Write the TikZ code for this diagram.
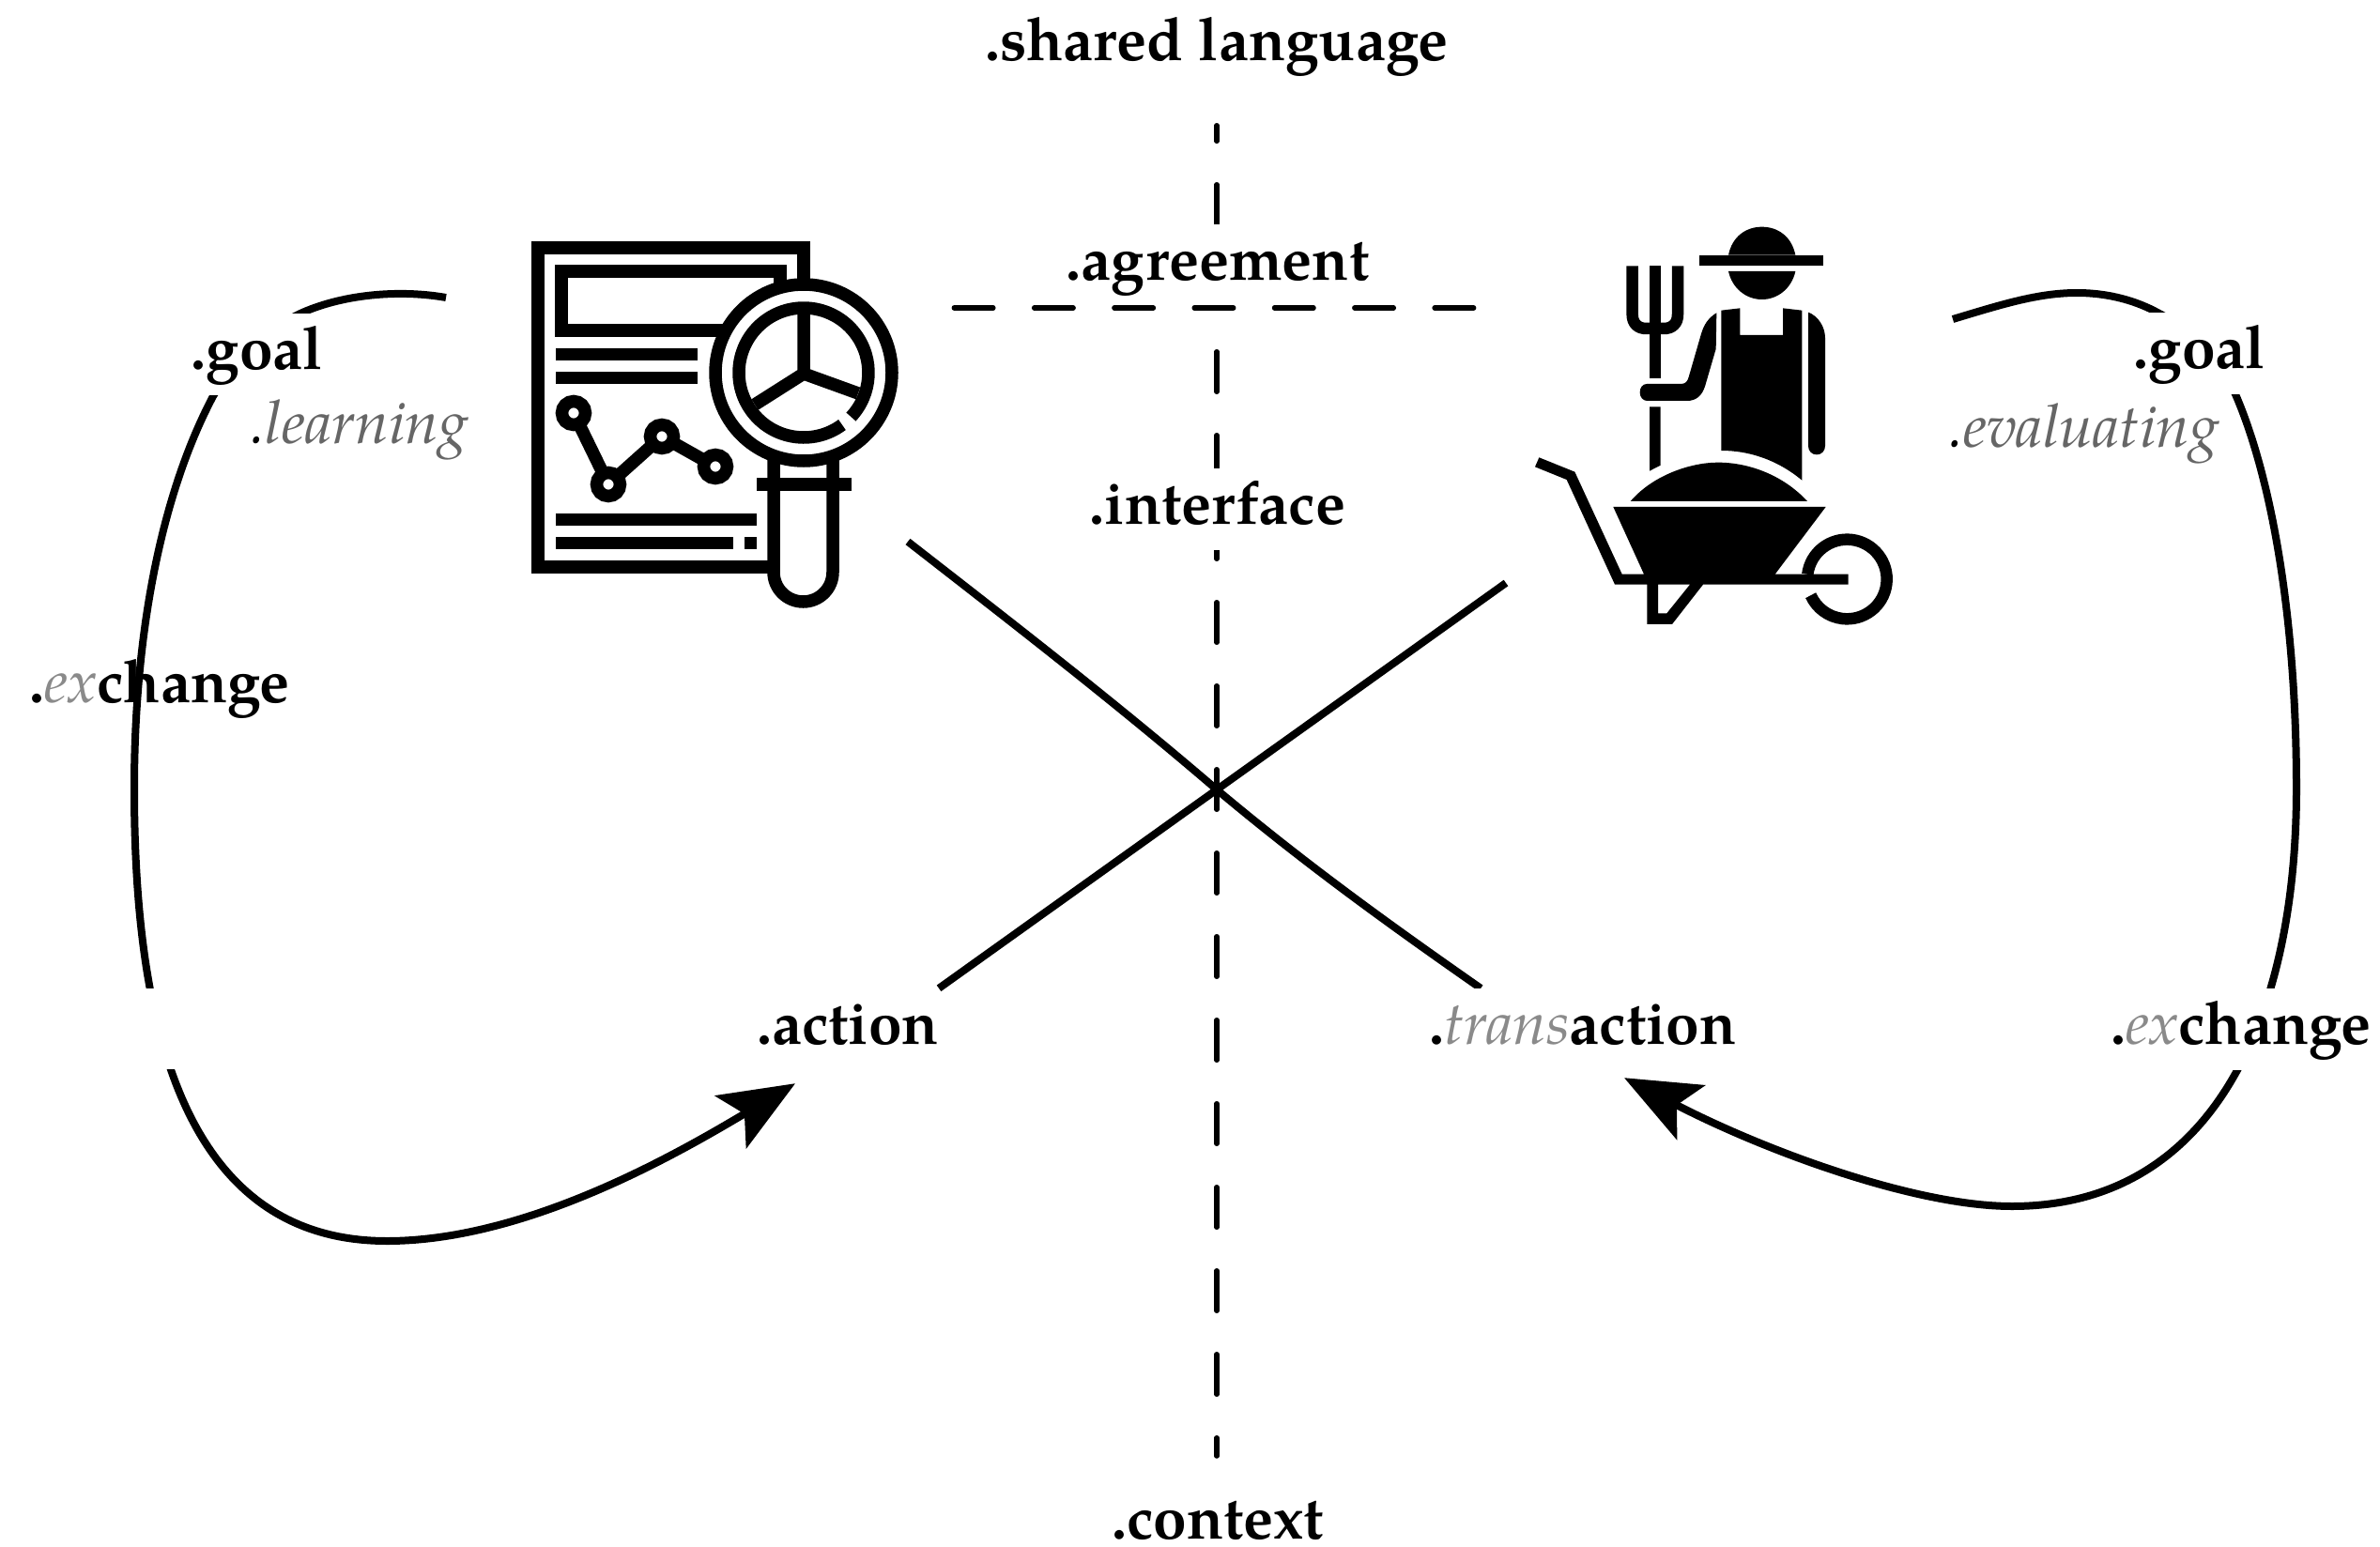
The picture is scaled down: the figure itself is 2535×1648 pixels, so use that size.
\documentclass[tikz,border=0pt]{standalone}
\usepackage{fontspec}
\setmainfont{TeX Gyre Pagella}
\usetikzlibrary{arrows.meta,backgrounds}
\definecolor{softgray}{HTML}{666666}
\definecolor{palegray}{HTML}{8A8A8A}
\newcommand{\softit}[1]{{\mdseries\itshape .\color{softgray}#1}}
\newcommand{\paleit}[1]{{\mdseries\itshape\color{palegray}#1}}
\tikzset{
	tag/.style={font=\fontsize{64}{66}\selectfont\bfseries,inner sep=0pt,text height=59pt,text depth=28pt,anchor=base,fill=white},
	baretag/.style={tag,fill=none},
	flow/.style={line width=8pt,line cap=butt},
	axis/.style={line width=5.5pt,line cap=round},
	iconline/.style={line width=13.5pt,line cap=butt,line join=miter}
}
\begin{document}
\begin{tikzpicture}[x=1pt,y=-1pt,>={Stealth[length=80pt,width=65pt,inset=17pt]}]
	\useasboundingbox (0,0) rectangle (2535,1648);
	\node[tag] (shared) at (1296,65) {.shared language};
	\node[tag] (agreement) at (1297,298) {.agreement};
	\node[tag] (interface) at (1297,558) {.interface};
	\node[tag,text depth=2pt] (context) at (1297,1639) {.context};
	\node[tag] (goalL) at (274,393) {.goal};
	\node[baretag] (learning) at (383,472) {\softit{learning}};
	\node[baretag] (exchangeL) at (170,748) {.\paleit{ex}change};
	\node[tag] (goalR) at (2343,392) {.goal};
	\node[baretag] (evaluating) at (2220,476) {\softit{evaluating}};
	\node[tag] (action) at (903,1112) {.action};
	\node[tag] (transaction) at (1686,1112) {.\paleit{trans}action};
	\node[tag] (exchangeR) at (2387,1112) {.\paleit{ex}change};
	\coordinate (reportTop) at (475,317);
	\coordinate (reportFoot) at (967,577);
	\coordinate (farmerTop) at (2080,340);
	\coordinate (farmerFoot) at (1604,621);
	\coordinate (axisTop) at (1296,133.75);
	\coordinate (axisBottom) at (1296,1551);
	\coordinate (axisLeft) at (1016.3,328);
	\coordinate (axisRight) at (1570.3,328);
	\begin{pgfonlayer}{background}
		\draw[axis,dash pattern=on 42.5pt off 46.5pt,dash phase=26pt] (axisTop)--(axisBottom);
		\draw[flow] (reportFoot) .. controls (1080,665) and (1190,750) .. (1297,842) .. controls (1390,920) and (1480,985) .. ([xshift=55pt]transaction.north west);
		\draw[flow] (farmerFoot)--(action.north east);
		\draw[flow,->] (reportTop) .. controls (430,309) and (370,312) .. (322,333) .. controls (280,352) and (250,385) .. (227,422) .. controls (170,530) and (143,680) .. (143,840) .. controls (143,1080) and (190,1322) .. (412,1322) .. controls (560,1322) and (720,1230) .. ([shift={(-56,14)}]action.south);
		\fill[white] (100,1053) rectangle (260,1139);
		\draw[flow,->] (farmerTop) .. controls (2130,325) and (2170,312) .. (2212,312) .. controls (2245,312) and (2275,320) .. (2300,334) .. controls (2340,355) and (2365,385) .. (2381,420) .. controls (2420,510) and (2446,660) .. (2446,840) .. controls (2446,1080) and (2360,1285) .. (2143,1285) .. controls (2040,1285) and (1880,1226) .. ([shift={(44,8)}]transaction.south);
	\end{pgfonlayer}
	\draw[axis,dash pattern=on 41.5pt off 43.8pt] (axisLeft)--(axisRight);
	\draw[iconline] (856,297)--(856,264)--(573,264)--(573,604)--(818,604);
	\draw[iconline] (831,302)--(831,289)--(598,289)--(598,352)--(770,352);
	\foreach \y/\xa/\xb in {377.5/592/743,402.5/592/743,553.5/592/806,578.5/592/781,578.5/793/806}
		\draw[iconline] (\xa,\y)--(\xb,\y);
	\draw[line width=13.5pt] (611,440)--(648,516)--(705,465)--(762,497);
	\foreach \x/\y in {611/440,648/516,705/465,762/497}
		\draw[iconline,fill=white] (\x,\y) circle[radius=12.5];
	\draw[iconline] (824,485)--(824,609.5) arc[start angle=180,end angle=0,radius=31.5]--(887,485);
	\draw[iconline] (806,516)--(907,516);
	\draw[iconline,fill=white] (856,397) circle[radius=94];
	\draw[iconline] (856,397) ++(53.6:69) arc[start angle=53.6,end angle=403,radius=69];
	\draw[iconline] (804,431)--(856,398)--(914,419) (856,398)--(856,328);
	\begin{scope}[shift={(1610,220)},x=1/3*1pt,y=-1/3*1pt]
		\fill (693,155) .. controls (705,95) and (750,65) .. (800,65) .. controls (850,65) and (895,95) .. (907,155)--cycle;
		\fill (600,155) rectangle (996,190);
		\fill (693,207) .. controls (705,262) and (750,297) .. (800,297) .. controls (850,297) and (895,262) .. (907,207)--cycle;
		\draw[line width=12.5pt] (386,190)--(386,345) .. controls (386,375) and (405,390) .. (430,390)--(487,390) .. controls (512,390) and (531,375) .. (531,345)--(531,190);
		\fill (441,190) rectangle (476,550);
		\fill (441,640)--(476,640)--(476,827)--(441,845)--cycle;
		\fill (655,340) .. controls (630,355) and (615,375) .. (605,410)--(566,545) .. controls (562,560) and (555,567) .. (540,567)--(432,567) .. controls (418,567) and (410,580) .. (410,594) .. controls (410,610) and (420,621) .. (434,621)--(560,621) .. controls (590,621) and (608,605) .. (618,575)--(653,455)--cycle;
		\fill (670,332)--(730,325)--(730,411)--(867,411)--(867,325)--(928,332)--(928,875) .. controls (850,810) and (760,780) .. (670,780)--cycle;
		\fill (948,338) .. controls (980,350) and (1002,385) .. (1002,420)--(1002,765) .. controls (1002,782) and (990,793) .. (975,793) .. controls (960,793) and (948,782) .. (948,765)--cycle;
		\fill (380,942) .. controls (450,860) and (570,818) .. (660,818) .. controls (760,818) and (870,860) .. (945,942)--cycle;
		\fill[even odd rule] (325,960)--(1004,960)--(842,1175)--(1076,1175)--(1076,1208)--(612,1208)--(513,1335)--(433,1335)--(433,1208)--(330,1208)--(176,873)--(75,832)--(88,802)--(202,848)--(353,1175)--(423,1175)--cycle (468,1208)--(570,1208)--(496,1300)--(468,1300)--cycle;
		\draw[line width=12.5pt] (1072,1191) ++(187:127) arc[start angle=187,end angle=516,radius=127];
	\end{scope}
\end{tikzpicture}
\end{document}
